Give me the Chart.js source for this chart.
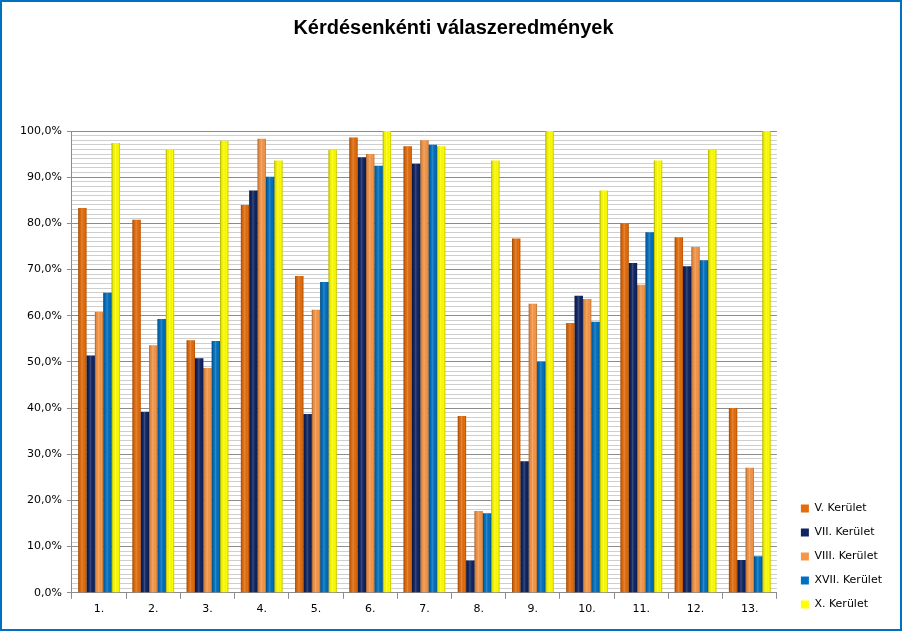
<!DOCTYPE html>
<html>
<head>
<meta charset="utf-8">
<script src="https://cdn.jsdelivr.net/npm/chart.js@4"></script>
<style>
  body { margin: 0; background: #fff; }
  #wrap { width: 902px; height: 631px; box-sizing: border-box; border: 2px solid #0070C0; position: relative; }
  #wrap canvas { display: block; }
</style>
</head>
<body>
<div id="wrap"><canvas id="chart" width="898" height="627"></canvas></div>
<script>
const questions = ["1.", "2.", "3.", "4.", "5.", "6.", "7.", "8.", "9.", "10.", "11.", "12.", "13."];

const districtV    = [83.3, 80.8, 54.7, 84.0, 68.6, 98.6, 96.7, 38.3, 76.7, 58.4, 80.0, 77.0, 40.0];
const districtVII  = [51.4, 39.2, 50.8, 87.1, 38.7, 94.3, 92.9,  7.0, 28.5, 64.3, 71.4, 70.7,  7.1];
const districtVIII = [60.8, 53.6, 48.7, 98.3, 61.3, 95.0, 98.0, 17.7, 62.6, 63.6, 66.7, 74.9, 27.1];
const districtXVII = [65.0, 59.3, 54.5, 90.1, 67.3, 92.5, 97.0, 17.2, 50.0, 58.7, 78.1, 72.0,  7.9];
const districtX    = [97.4, 96.0, 97.9, 93.6, 95.9, 100, 96.7, 93.6, 100, 87.1, 93.6, 95.9, 100];

const seriesNames = ["V. Kerület", "VII. Kerület", "VIII. Kerület", "XVII. Kerület", "X. Kerület"];
const seriesColors = ["#E46C0A", "#0F2462", "#F79646", "#0070C0", "#FFFF00"];

// cylinder-ish shading on top of each bar, like the excel look
const barShade = {
  id: "barShade",
  afterDatasetsDraw(chart) {
    const ctx = chart.ctx;
    chart.data.datasets.forEach((ds, i) => {
      chart.getDatasetMeta(i).data.forEach(bar => {
        const left = bar.x - bar.width / 2;
        const g = ctx.createLinearGradient(left, 0, left + bar.width, 0);
        g.addColorStop(0, "rgba(0,0,0,0.35)");
        g.addColorStop(0.2, "rgba(0,0,0,0.05)");
        g.addColorStop(0.45, "rgba(255,255,255,0.18)");
        g.addColorStop(0.8, "rgba(0,0,0,0.0)");
        g.addColorStop(1, "rgba(0,0,0,0.25)");
        ctx.save();
        ctx.fillStyle = g;
        ctx.fillRect(left, bar.y, bar.width, bar.base - bar.y);
        ctx.restore();
      });
    });
  }
};

const datasets = [districtV, districtVII, districtVIII, districtXVII, districtX].map((vals, i) => ({
  label: seriesNames[i],
  data: vals,
  backgroundColor: seriesColors[i],
  borderWidth: 0
}));

const font = { family: "DejaVu Sans", size: 11 };

new Chart(document.getElementById("chart"), {
  type: "bar",
  data: { labels: questions, datasets: datasets },
  plugins: [barShade],
  options: {
    responsive: false,
    animation: false,
    layout: { padding: { left: 13, right: 8, bottom: 6, top: 0 } },
    datasets: { bar: { categoryPercentage: 0.77, barPercentage: 1.0 } },
    plugins: {
      title: {
        display: true,
        text: "Kérdésenkénti válaszeredmények",
        color: "#000",
        font: { family: "Liberation Sans", size: 20, weight: "bold" },
        padding: { top: 14, bottom: 91 }
      },
      legend: {
        position: "right",
        align: "end",
        fullSize: true,
        labels: {
          color: "#000",
          font: font,
          boxWidth: 8,
          boxHeight: 8,
          padding: 13
        }
      },
      tooltip: { enabled: false }
    },
    scales: {
      x: {
        grid: {
          offset: true,
          drawOnChartArea: false,
          tickLength: 6,
          color: "#8c8c8c"
        },
        border: { color: "#8c8c8c" },
        ticks: { color: "#000", font: font, padding: 4 },
        afterFit: s => { s.height += 3; }
      },
      y: {
        min: 0,
        max: 100,
        grid: {
          tickLength: 5,
          color: c => (c.tick && c.tick.value % 10 === 0) ? "#8c8c8c" : "#cfcfcf",
          tickColor: c => (c.tick && c.tick.value % 10 === 0) ? "#8c8c8c" : "rgba(0,0,0,0)"
        },
        border: { color: "#8c8c8c" },
        ticks: {
          stepSize: 1,
          autoSkip: false,
          color: "#000",
          font: font,
          padding: 5,
          callback: v => v % 10 === 0 ? v.toFixed(1).replace(".", ",") + "%" : ""
        }
      },
      // empty spacer between plot and legend
      gap: {
        position: "right",
        grid: { display: false },
        border: { display: false },
        ticks: { display: false },
        afterFit: s => { s.width = 11; }
      }
    }
  }
});
</script>
</body>
</html>
